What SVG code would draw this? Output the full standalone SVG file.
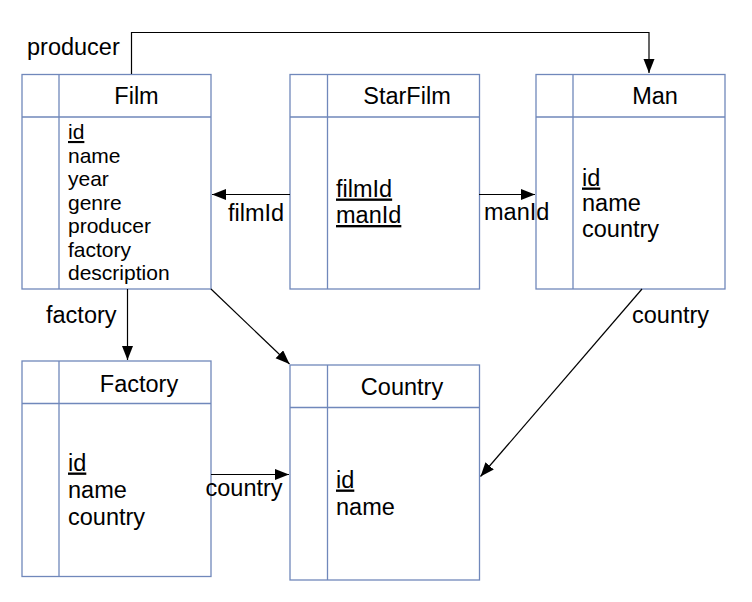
<svg xmlns="http://www.w3.org/2000/svg" width="752" height="602" viewBox="0 0 752 602">
<style>
.box{fill:#fff;stroke:#7088bb;stroke-width:1.3}
.sep{stroke:#7088bb;stroke-width:1.3;fill:none}
text{font-family:"Liberation Sans",Arial,sans-serif;fill:#000}
.t{font-size:23.5px;text-anchor:middle}
.f{font-size:21px}
.g{font-size:23.5px}
.l{font-size:23.5px}
.k{text-decoration:underline}
.c{stroke:#000;stroke-width:1.2;fill:none;marker-end:url(#ah)}
</style>
<defs>
<marker id="ah" markerUnits="userSpaceOnUse" markerWidth="15" markerHeight="12" refX="14" refY="5.5" orient="auto">
<path d="M0,0 L14,5.5 L0,11 z" fill="#000"/>
</marker>
</defs>
<rect width="752" height="602" fill="#fff"/>
<g id="film">
<rect class="box" x="22" y="74.5" width="189" height="214.5"/>
<path class="sep" d="M59,74.5 V289 M22,117 H211"/>
<text class="t" x="136.5" y="103.5">Film</text>
<text class="f k" x="68" y="139">id</text>
<text class="f" x="68" y="162.5">name</text>
<text class="f" x="68" y="186">year</text>
<text class="f" x="68" y="209.5">genre</text>
<text class="f" x="68" y="233">producer</text>
<text class="f" x="68" y="256.5">factory</text>
<text class="f" x="68" y="280">description</text>
</g>
<g id="starfilm">
<rect class="box" x="290" y="74.5" width="189.5" height="214.5"/>
<path class="sep" d="M327.5,74.5 V289 M290,117 H479.5"/>
<text class="t" x="407" y="104">StarFilm</text>
<text class="g k" x="336" y="196.5">filmId</text>
<text class="g k" x="336" y="223">manId</text>
</g>
<g id="man">
<rect class="box" x="536" y="74.5" width="189" height="214.5"/>
<path class="sep" d="M573,74.5 V289 M536,117 H725"/>
<text class="t" x="655" y="104">Man</text>
<text class="g k" x="582" y="185.5">id</text>
<text class="g" x="582" y="211">name</text>
<text class="g" x="582" y="237">country</text>
</g>
<g id="factory">
<rect class="box" x="22" y="361" width="189" height="215.5"/>
<path class="sep" d="M59,361 V576.5 M22,403.5 H211"/>
<text class="t" x="139" y="391.5">Factory</text>
<text class="g k" x="68" y="470.5">id</text>
<text class="g" x="68" y="498">name</text>
<text class="g" x="68" y="524.5">country</text>
</g>
<g id="country">
<rect class="box" x="290" y="365" width="189.5" height="215"/>
<path class="sep" d="M327.5,365 V580 M290,407.5 H479.5"/>
<text class="t" x="402" y="395">Country</text>
<text class="g k" x="336" y="487.5">id</text>
<text class="g" x="336" y="515">name</text>
</g>
<g id="connectors">
<path class="c" d="M131.5,74 V32.5 H649 V73"/>
<path class="c" d="M290,194.5 H212"/>
<path class="c" d="M479,194.5 H535"/>
<path class="c" d="M127.5,289 V360"/>
<path class="c" d="M211,289 L289.5,364"/>
<path class="c" d="M642,289 L480.5,476.5"/>
<path class="c" d="M211,474.5 H289"/>
<text class="l" x="27" y="55">producer</text>
<text class="l" x="228" y="221">filmId</text>
<text class="l" x="484" y="220">manId</text>
<text class="l" x="46" y="322.5">factory</text>
<text class="l" x="632" y="322.5">country</text>
<text class="l" x="205.5" y="496">country</text>
</g>
</svg>
